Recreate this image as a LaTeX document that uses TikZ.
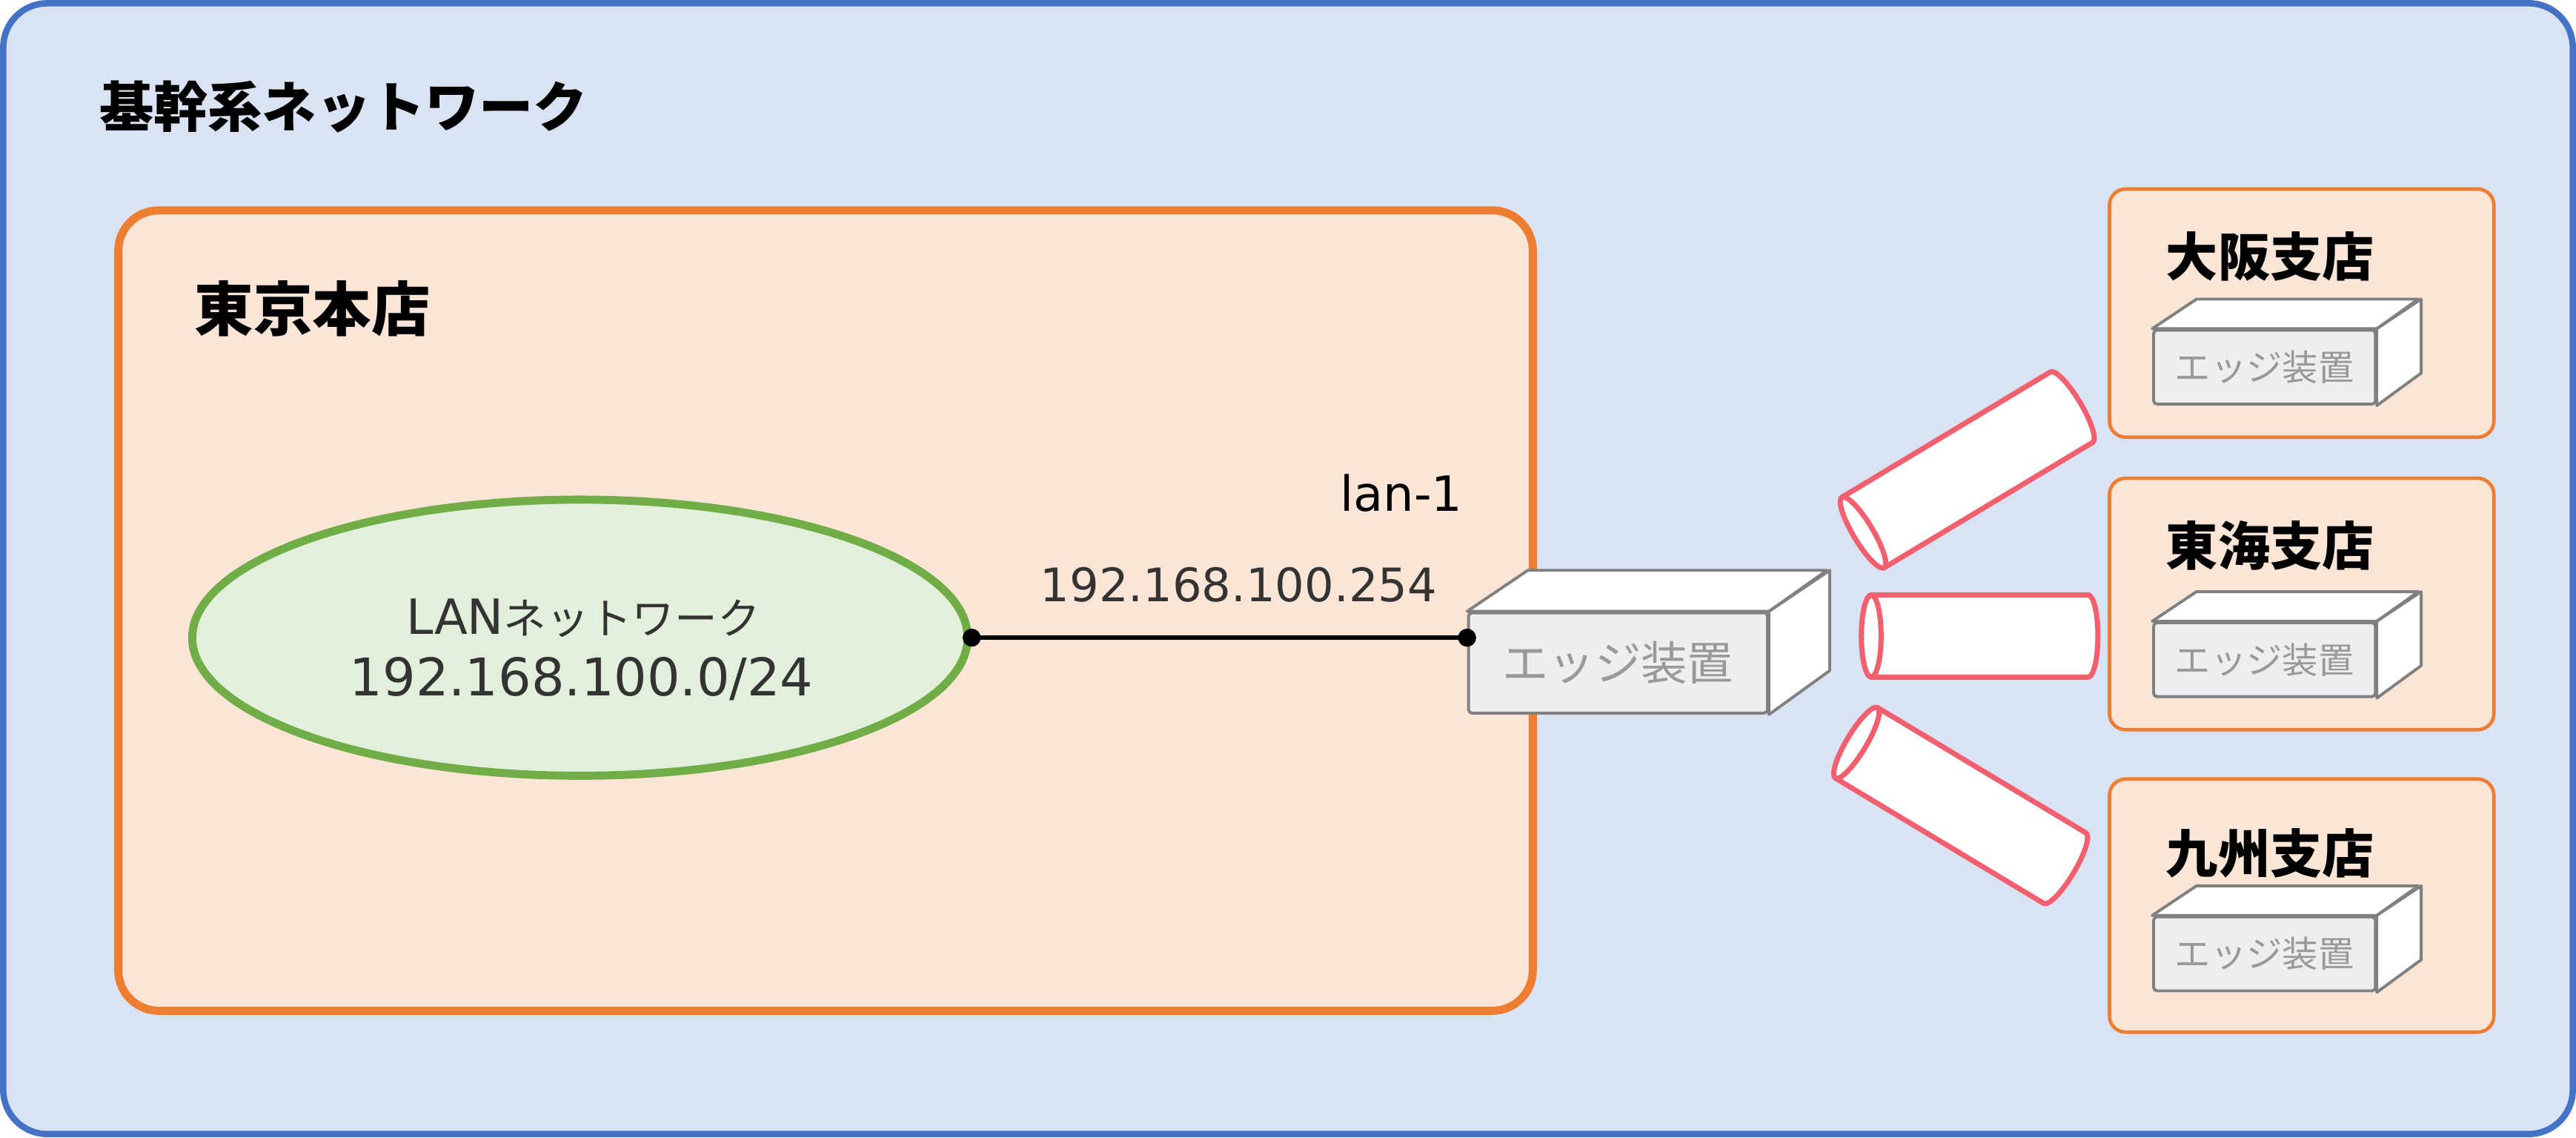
\documentclass[tikz,border=0pt]{standalone}
\usepackage{fontspec}
\usetikzlibrary{shapes.geometric}
\setmainfont{Noto Sans CJK JP}
\newfontfamily\latinf{DejaVu Sans}
\definecolor{outerb}{HTML}{4472C4}
\definecolor{outerf}{HTML}{DAE3F3}
\definecolor{orb}{HTML}{ED7D31}
\definecolor{orf}{HTML}{FBE5D6}
\definecolor{grb}{HTML}{70AD47}
\definecolor{grf}{HTML}{E2EFDA}
\definecolor{tube}{HTML}{F2606F}
\definecolor{txt}{HTML}{333333}
\definecolor{devg}{HTML}{808080}
\definecolor{devf}{HTML}{EEEEEE}
\definecolor{devt}{HTML}{999999}
\tikzset{
  devfront/.style={draw=devg,fill=devf,line width=2.5pt,rounded corners=3pt,inner sep=0pt,anchor=north west,text=devt},
  devface/.style={draw=devg,fill=white,line width=2.5pt,line join=round},
  tubeline/.style={draw=tube,fill=white,line width=4.5pt,line join=round},
  branch/.style={draw=orb,fill=orf,line width=3pt,rounded corners=14pt},
}
\newcommand{\mydevice}[8]{% name, x, y, w, h, dx, dy, fontsize
  \node[devfront,minimum width=#4*0.05cm,minimum height=#5*0.05cm,font=\fontsize{#8}{#8}\selectfont] (#1) at (#2,#3) {エッジ装置};
  \draw[devface] (#1.north west) -- ++(#6,-#7) -- ++(#4,0) -- (#1.north east) -- cycle;
  \draw[devface] (#1.north east) -- ++(#6,-#7) -- ++(0,#5) -- (#1.south east) -- cycle;
}
\newcommand{\mytube}[4]{% x, y, angle, length
  \begin{scope}[shift={(#1,#2)},rotate=#3]
    \draw[tubeline] (0,-25) -- (#4,-25) arc[start angle=-90,end angle=90,x radius=6,y radius=25] -- (0,25) -- cycle;
    \draw[tubeline] (0,0) ellipse[x radius=6,y radius=25];
  \end{scope}
}
\begin{document}
\begin{tikzpicture}[x=0.05cm,y=-0.05cm]
\useasboundingbox (0,0) rectangle (1568,692.4);
\draw[draw=outerb,fill=outerf,line width=5.5pt,rounded corners=38pt] (2,2) rectangle (1566,690);
\node[anchor=west,font=\bfseries\fontsize{47pt}{47pt}\selectfont] (t0) at (58,65) {基幹系ネットワーク};
\draw[draw=orb,fill=orf,line width=7pt,rounded corners=35pt] (72,128) rectangle (933,615);
\node[anchor=west,font=\bfseries\fontsize{51pt}{51pt}\selectfont] (t1) at (116,188) {東京本店};
\node[draw=grb,fill=grf,line width=7pt,ellipse,minimum width=472*0.05cm,minimum height=168*0.05cm,inner sep=0pt] (lan) at (353,388) {};
\node[text=txt] (lant1) at (355,376) {{\latinf\fontsize{42pt}{42pt}\selectfont LAN}{\fontsize{37pt}{37pt}\selectfont ネットワーク}};
\node[text=txt,font=\latinf\fontsize{45pt}{45pt}\selectfont] (lant2) at (354,413) {192.168.100.0/24};
\node[text=black,font=\latinf\fontsize{42pt}{42pt}\selectfont] (l1) at (853,300) {lan-1};
\node[text=txt,font=\latinf\fontsize{40pt}{40pt}\selectfont] (ip) at (754,356) {192.168.100.254};
\mydevice{edge}{893}{372}{182}{61}{37}{25}{40pt}
\coordinate (pa) at (lan.east);
\coordinate (pb) at (edge.west |- pa);
\draw[line width=4pt] (pa) -- (pb);
\fill (pa) circle[radius=5.5];
\fill (pb) circle[radius=5.5];
\mytube{1134}{324}{31}{148}
\mytube{1139}{387}{0}{132}
\mytube{1130}{452}{-31}{148}
\draw[branch] (1284,115) rectangle (1518,266);
\draw[branch] (1284,291) rectangle (1518,444);
\draw[branch] (1284,474) rectangle (1518,628);
\node[anchor=west,font=\bfseries\fontsize{45pt}{45pt}\selectfont] (b1) at (1316,156) {大阪支店};
\node[anchor=west,font=\bfseries\fontsize{45pt}{45pt}\selectfont] (b2) at (1316,332) {東海支店};
\node[anchor=west,font=\bfseries\fontsize{45pt}{45pt}\selectfont] (b3) at (1316,519) {九州支店};
\mydevice{d1}{1310}{200}{135}{45}{27}{18}{31pt}
\mydevice{d2}{1310}{378}{135}{45}{27}{18}{31pt}
\mydevice{d3}{1310}{557}{135}{45}{27}{18}{31pt}
\end{tikzpicture}
\end{document}
